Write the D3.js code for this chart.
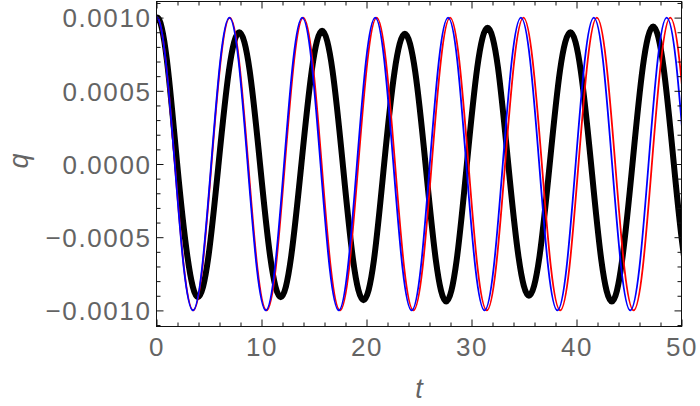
<!DOCTYPE html>
<html><head><meta charset="utf-8">
<script src="https://cdn.jsdelivr.net/npm/d3@7"></script>
<style>
html,body{margin:0;padding:0;background:#fff;}
svg{display:block;}
text{font-family:"Liberation Sans",Arial,sans-serif;fill:#646464;}
</style></head>
<body>
<svg id="chart" width="700" height="406"></svg>
<script>
// ---- data ----
const xTickValues = [0, 10, 20, 30, 40, 50];
const xTickLabels = ["0", "10", "20", "30", "40", "50"];
const yTickValues = [-0.001, -0.0005, 0, 0.0005, 0.001];
const yTickLabels = ["\u22120.0010", "\u22120.0005", "0.0000", "0.0005", "0.0010"];
const xLabel = "t";
const yLabel = "q";

const blueT = [-0.87, 0, 0.87, 1.74, 2.60, 3.47, 4.34, 5.21, 6.08, 6.94, 7.81, 8.68, 9.55, 10.41, 11.28, 12.15, 13.02, 13.88, 14.75, 15.62, 16.49, 17.36, 18.22, 19.09, 19.96, 20.83, 21.69, 22.56, 23.43, 24.30, 25.17, 26.03, 26.90, 27.77, 28.64, 29.50, 30.37, 31.24, 32.11, 32.98, 33.84, 34.71, 35.58, 36.45, 37.31, 38.18, 39.05, 39.92, 40.79, 41.65, 42.52, 43.39, 44.26, 45.12, 45.99, 46.86, 47.73, 48.59, 49.46, 50.33];
const blueQ = [0.00071,
  0.00100, 0.00071, 0, -0.00071, -0.00100, -0.00071, 0, 0.00071,
  0.00100, 0.00071, 0, -0.00071, -0.00100, -0.00071, 0, 0.00071,
  0.00100, 0.00071, 0, -0.00071, -0.00100, -0.00071, 0, 0.00071,
  0.00100, 0.00071, 0, -0.00071, -0.00100, -0.00071, 0, 0.00071,
  0.00100, 0.00071, 0, -0.00071, -0.00100, -0.00071, 0, 0.00071,
  0.00100, 0.00071, 0, -0.00071, -0.00100, -0.00071, 0, 0.00071,
  0.00100, 0.00071, 0, -0.00071, -0.00100, -0.00071, 0, 0.00071,
  0.00100, 0.00071, 0];

const redT = [-0.87, 0, 0.87, 1.75, 2.62, 3.50, 4.37, 5.24, 6.12, 6.99, 7.86, 8.74, 9.61, 10.49, 11.36, 12.23, 13.11, 13.98, 14.85, 15.73, 16.60, 17.48, 18.35, 19.22, 20.10, 20.97, 21.84, 22.72, 23.59, 24.47, 25.34, 26.21, 27.09, 27.96, 28.83, 29.71, 30.58, 31.46, 32.33, 33.20, 34.08, 34.95, 35.82, 36.70, 37.57, 38.45, 39.32, 40.19, 41.07, 41.94, 42.81, 43.69, 44.56, 45.44, 46.31, 47.18, 48.06, 48.93, 49.80, 50.68];
const redQ = [0.00071,
  0.00100, 0.00071, 0, -0.00071, -0.00100, -0.00071, 0, 0.00071,
  0.00100, 0.00071, 0, -0.00071, -0.00100, -0.00071, 0, 0.00071,
  0.00100, 0.00071, 0, -0.00071, -0.00100, -0.00071, 0, 0.00071,
  0.00100, 0.00071, 0, -0.00071, -0.00100, -0.00071, 0, 0.00071,
  0.00100, 0.00071, 0, -0.00071, -0.00100, -0.00071, 0, 0.00071,
  0.00100, 0.00071, 0, -0.00071, -0.00100, -0.00071, 0, 0.00071,
  0.00100, 0.00071, 0, -0.00071, -0.00100, -0.00071, 0, 0.00071,
  0.00100, 0.00071, 0];

const blackT = [-0.99, 0, 0.99, 1.97, 2.96, 3.94, 4.93, 5.91, 6.90, 7.88, 8.87, 9.86, 10.84, 11.83, 12.81, 13.80, 14.79, 15.77, 16.76, 17.74, 18.73, 19.71, 20.70, 21.68, 22.67, 23.65, 24.64, 25.62, 26.61, 27.59, 28.58, 29.56, 30.55, 31.53, 32.52, 33.50, 34.49, 35.47, 36.46, 37.45, 38.43, 39.42, 40.40, 41.39, 42.37, 43.36, 44.34, 45.33, 46.31, 47.30, 48.29, 49.27, 50.26, 51.24];
const blackQ = [0.00071,
  0.00100, 0.00071, 0, -0.00064,
  -0.00091, -0.00064, 0, 0.00064,
  0.00090, 0.00064, 0, -0.00064,
  -0.00091, -0.00064, 0, 0.00064,
  0.00091, 0.00064, 0, -0.00066,
  -0.00093, -0.00066, 0, 0.00063,
  0.00089, 0.00063, 0, -0.00066,
  -0.00094, -0.00066, 0, 0.00066,
  0.00093, 0.00066, 0, -0.00064,
  -0.00090, -0.00064, 0, 0.00064,
  0.00090, 0.00064, 0, -0.00066,
  -0.00094, -0.00066, 0, 0.00066,
  0.00094, 0.00066, 0, -0.00064,
  -0.00090];

// ---- layout ----
const L = 156.5, R = 681.5, T = 1.5, B = 326.5;
const svg = d3.select("#chart");
const x = d3.scaleLinear().domain([0, 50]).range([L, R]);
const y = d3.scaleLinear().domain([-0.00111, 0.00111]).range([B, T]);

svg.append("defs").append("clipPath").attr("id", "clip")
  .append("rect").attr("x", L).attr("y", T).attr("width", R - L).attr("height", B - T);

const line = d3.line().x(d => x(d[0])).y(d => y(d[1])).curve(d3.curveNatural);
const series = [
  {t: blackT, q: blackQ, color: "#000000", w: 6},
  {t: redT, q: redQ, color: "#ff0000", w: 1.8},
  {t: blueT, q: blueQ, color: "#0000ff", w: 1.8}
];
const g = svg.append("g").attr("clip-path", "url(#clip)");
series.forEach(s => {
  const pts = s.t.map((tv, i) => [tv, s.q[i]]);
  g.append("path").datum(pts).attr("d", line)
    .attr("fill", "none").attr("stroke", s.color).attr("stroke-width", s.w)
    .attr("stroke-linejoin", "round");
});

// ---- frame & ticks ----
const fr = svg.append("g");
const xMinor = d3.range(0, 51, 2).filter(v => v % 10 !== 0);
const yMinor = d3.range(-11, 12).map(v => v * 0.0001).filter(v => Math.abs(Math.round(v * 10000)) % 5 !== 0 && Math.abs(v) <= 0.00111);

// bottom axis
const axB = d3.axisBottom(x).tickValues(xTickValues).tickFormat((d, i) => xTickLabels[i]).tickSizeInner(-7).tickSizeOuter(0).tickPadding(11);
const gB = svg.append("g").attr("transform", `translate(0,${B})`).call(axB);
const axBm = d3.axisBottom(x).tickValues(xMinor).tickFormat("").tickSizeInner(-4).tickSizeOuter(0);
svg.append("g").attr("transform", `translate(0,${B})`).call(axBm);
// top axis
svg.append("g").attr("transform", `translate(0,${T})`).call(d3.axisTop(x).tickValues(xTickValues).tickFormat("").tickSizeInner(-7).tickSizeOuter(0));
svg.append("g").attr("transform", `translate(0,${T})`).call(d3.axisTop(x).tickValues(xMinor).tickFormat("").tickSizeInner(-4).tickSizeOuter(0));
// left axis
const axL = d3.axisLeft(y).tickValues(yTickValues).tickFormat((d, i) => yTickLabels[i]).tickSizeInner(-7).tickSizeOuter(0).tickPadding(5);
const gL = svg.append("g").attr("transform", `translate(${L},0)`).call(axL);
svg.append("g").attr("transform", `translate(${L},0)`).call(d3.axisLeft(y).tickValues(yMinor).tickFormat("").tickSizeInner(-4).tickSizeOuter(0));
// right axis
svg.append("g").attr("transform", `translate(${R},0)`).call(d3.axisRight(y).tickValues(yTickValues).tickFormat("").tickSizeInner(-7).tickSizeOuter(0));
svg.append("g").attr("transform", `translate(${R},0)`).call(d3.axisRight(y).tickValues(yMinor).tickFormat("").tickSizeInner(-4).tickSizeOuter(0));

svg.selectAll(".domain").remove();
svg.selectAll(".tick line").attr("stroke", "#111").attr("stroke-width", 1);
svg.selectAll(".tick text").attr("fill", "#646464").style("font-family", '"Liberation Sans",Arial,sans-serif')
  .style("font-size", "26px").style("letter-spacing", "1.6px");
gL.selectAll(".tick text").attr("dy", "0.36em");
gB.selectAll(".tick text").attr("dy", "0.71em");

fr.append("rect").attr("x", L).attr("y", T).attr("width", R - L).attr("height", B - T)
  .attr("fill", "none").attr("stroke", "#111").attr("stroke-width", 1);

// axis labels
svg.append("text").attr("x", 419).attr("y", 398).attr("text-anchor", "middle")
  .style("font-size", "27px").style("font-style", "italic").text(xLabel);
svg.append("text").attr("transform", "translate(28,161) rotate(-90)").attr("text-anchor", "middle")
  .style("font-size", "27px").style("font-style", "italic").text(yLabel);
</script>
</body></html>
